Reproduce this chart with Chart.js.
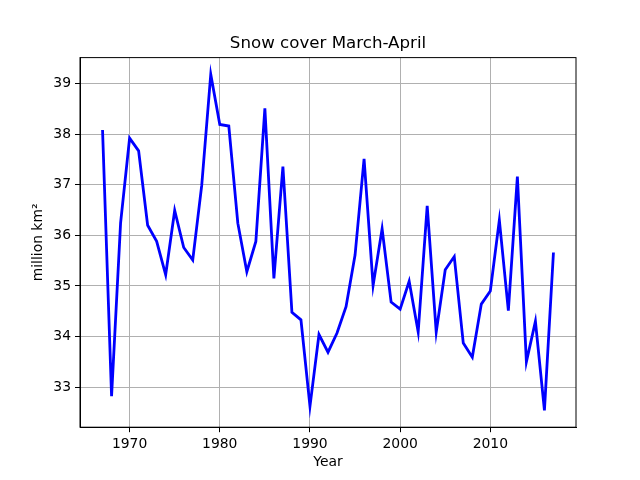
<!DOCTYPE html>
<html>
<head>
  <meta charset="utf-8">
  <title>Snow cover March-April</title>
  <script src="https://cdn.jsdelivr.net/npm/chart.js"></script>
  <style>
    body { margin: 0; background: #fff; }
    canvas { display: block; }
  </style>
</head>
<body>
  <canvas id="snowChart" width="640" height="480"></canvas>
  <script>
    const YEARS = [
      1967, 1968, 1969, 1970, 1971, 1972, 1973, 1974, 1975, 1976,
      1977, 1978, 1979, 1980, 1981, 1982, 1983, 1984, 1985, 1986,
      1987, 1988, 1989, 1990, 1991, 1992, 1993, 1994, 1995, 1996,
      1997, 1998, 1999, 2000, 2001, 2002, 2003, 2004, 2005, 2006,
      2007, 2008, 2009, 2010, 2011, 2012, 2013, 2014, 2015, 2016,
      2017
    ];
    // million km²
    const SNOW = [
      38.08, 32.82, 36.24, 37.92, 37.67, 36.20, 35.88, 35.22, 36.49, 35.76,
      35.51, 36.99, 39.18, 38.19, 38.16, 36.24, 35.28, 35.88, 38.51, 35.15,
      37.36, 34.48, 34.33, 32.62, 34.04, 33.69, 34.07, 34.59, 35.61, 37.51,
      35.01, 36.13, 34.68, 34.54, 35.09, 34.09, 36.58, 34.09, 35.32, 35.58,
      33.87, 33.59, 34.64, 34.90, 36.30, 34.51, 37.16, 33.50, 34.30, 32.54,
      35.66
    ];
    const X_TICKS = [1970, 1980, 1990, 2000, 2010];
    const Y_TICKS = [33, 34, 35, 36, 37, 38, 39];

    const FONT = 'DejaVu Sans';

    // matplotlib draws a box all round the axes
    const frame = {
      id: 'frame',
      afterDraw(chart) {
        const a = chart.chartArea;
        const c = chart.ctx;
        c.save();
        c.strokeStyle = '#000';
        c.lineWidth = 1;
        c.strokeRect(a.left, a.top, a.right - a.left, a.bottom - a.top);
        c.restore();
      }
    };

    const ctx = document.getElementById('snowChart').getContext('2d');
    const chart = new Chart(ctx, {
      type: 'line',
      data: {
        datasets: [{
          label: 'Snow cover',
          data: YEARS.map((yr, i) => ({ x: yr, y: SNOW[i] })),
          borderColor: '#0000ff',
          borderWidth: 2.8,
          pointRadius: 0,
          tension: 0,
          fill: false
        }]
      },
      options: {
        responsive: false,
        animation: false,
        layout: { padding: { left: 0, right: 64, top: 0, bottom: 0 } },
        plugins: {
          legend: { display: false },
          tooltip: { enabled: false },
          title: {
            display: true,
            fullSize: false,
            text: 'Snow cover March-April',
            color: '#000',
            font: { family: FONT, size: 16.67, weight: 'normal', lineHeight: 1.2 },
            padding: { top: 33.5, bottom: 4.1 }
          }
        },
        scales: {
          x: {
            type: 'linear',
            min: 1964.5,
            max: 2019.5,
            afterBuildTicks: s => { s.ticks = X_TICKS.map(v => ({ value: v })); },
            afterFit: s => { s.height = 52.8; },
            ticks: {
              color: '#000',
              font: { family: FONT, size: 13.9 },
              padding: 4,
              maxRotation: 0,
              autoSkip: false,
              callback: v => String(v)
            },
            grid: { color: '#b0b0b0', lineWidth: 1, tickColor: '#000', tickLength: 5, tickWidth: 1 },
            border: { display: true, color: '#000', width: 1 },
            title: {
              display: true,
              text: 'Year',
              color: '#000',
              font: { family: FONT, size: 13.9, lineHeight: 1.2 },
              padding: { top: 0, bottom: 9 }
            }
          },
          y: {
            min: 32.208,
            max: 39.512,
            afterBuildTicks: s => { s.ticks = Y_TICKS.map(v => ({ value: v })); },
            afterFit: s => { s.width = 80; },
            ticks: {
              color: '#000',
              font: { family: FONT, size: 13.9 },
              padding: 4,
              callback: v => String(v)
            },
            grid: { color: '#b0b0b0', lineWidth: 1, tickColor: '#000', tickLength: 5, tickWidth: 1 },
            border: { display: true, color: '#000', width: 1 },
            title: {
              display: true,
              text: 'million km²',
              color: '#000',
              font: { family: FONT, size: 13.9, lineHeight: 1.2 },
              padding: { top: 29.7, bottom: 0 }
            }
          }
        }
      },
      plugins: [frame]
    });
  </script>
</body>
</html>
